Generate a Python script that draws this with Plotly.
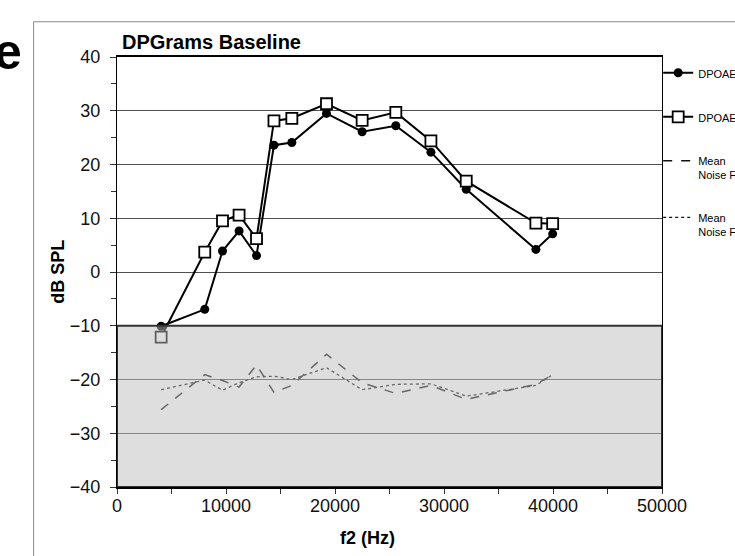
import plotly.graph_objects as go

# ---- data ----
f2_hz = [4050, 8050, 9680, 11200, 12800, 14400, 16040, 19220, 22490, 25580, 28800, 32040, 38430, 39970]
dpoae_1 = [-10.1, -6.95, 3.9, 7.65, 3.05, 23.6, 24.1, 29.5, 26.1, 27.2, 22.3, 15.4, 4.2, 7.1]
dpoae_2 = [-12.1, 3.7, 9.5, 10.6, 6.2, 28.1, 28.6, 31.3, 28.2, 29.7, 24.4, 16.9, 9.1, 9.0]
noise_1 = [-25.6, -19.1, -20.2, -21.4, -17.3, -22.4, -21.1, -15.3, -20.6, -22.6, -21.1, -23.7, -20.9, -19.1]
noise_2 = [-21.9, -20.1, -22.0, -20.6, -19.5, -19.4, -20.0, -17.8, -21.9, -20.9, -20.8, -23.1, -21.1, -19.1]

names = ["DPOAE L1", "DPOAE L2", "Mean<br>Noise Floor 1", "Mean<br>Noise Floor 2"]
y_ticks = [-40, -30, -20, -10, 0, 10, 20, 30, 40]
x_ticks = [0, 10000, 20000, 30000, 40000, 50000]
noise_band = [-40, -10]

FONT = "Liberation Sans, Arial, sans-serif"

fig = go.Figure()
fig.add_trace(go.Scatter(x=f2_hz, y=dpoae_1, name=names[0], mode="lines+markers",
                         line=dict(color="black", width=2),
                         marker=dict(symbol="circle", size=9, color="black"),
                         legendgroup="a"))
fig.add_trace(go.Scatter(x=f2_hz, y=dpoae_2, name=names[1], mode="lines+markers",
                         line=dict(color="black", width=2),
                         marker=dict(symbol="square", size=11, color="white",
                                     line=dict(color="black", width=1.8)),
                         legendgroup="b"))
fig.add_trace(go.Scatter(x=f2_hz, y=noise_1, name=names[2], mode="lines",
                         line=dict(color="#111111", width=1.5, dash="dash"),
                         legendgroup="c"))
fig.add_trace(go.Scatter(x=f2_hz, y=noise_2, name=names[3], mode="lines",
                         line=dict(color="#111111", width=1.3, dash="dot"),
                         legendgroup="d"))

# grey noise-floor band drawn over the traces (semi transparent)
fig.add_shape(type="rect", xref="x", yref="y", x0=x_ticks[0], x1=x_ticks[-1],
              y0=noise_band[0], y1=noise_band[1], layer="above",
              fillcolor="rgba(189,189,189,0.5)", line=dict(color="#333333", width=2))

# outer frame of the slide graphic
fig.add_shape(type="rect", xref="paper", yref="paper", x0=-0.153, x1=1.6, y0=-0.3, y1=1.082,
              line=dict(color="#8a8a8a", width=1), fillcolor="rgba(0,0,0,0)", layer="below")

fig.add_annotation(text="<b>DPGrams Baseline</b>", xref="paper", yref="paper",
                   x=0.006, y=1.004, xanchor="left", yanchor="bottom", showarrow=False,
                   font=dict(family=FONT, size=20, color="black"))
fig.add_annotation(text="<b>e</b>", xref="paper", yref="paper",
                   x=-0.2293, y=0.941, xanchor="left", yanchor="bottom", showarrow=False,
                   font=dict(family=FONT, size=50, color="black"))
fig.add_annotation(text="<b>f2 (Hz)</b>", xref="paper", yref="paper",
                   x=0.46, y=-0.118, xanchor="center", yanchor="middle", showarrow=False,
                   font=dict(family=FONT, size=18, color="black"))
fig.add_annotation(text="<b>dB SPL</b>", xref="paper", yref="paper", textangle=-90,
                   x=-0.1088, y=0.5, xanchor="center", yanchor="middle", showarrow=False,
                   font=dict(family=FONT, size=18, color="black"))

fig.update_layout(
    width=735, height=556,
    margin=dict(l=117, r=73, t=57, b=69, autoexpand=False),
    paper_bgcolor="white", plot_bgcolor="white",
    font=dict(family=FONT, color="black"),
    showlegend=True,
    legend=dict(x=0.993, y=0.995, xanchor="left", yanchor="top",
                font=dict(family=FONT, size=11, color="black"),
                tracegroupgap=25, itemwidth=30, valign="top",
                bgcolor="rgba(0,0,0,0)"),
    xaxis=dict(range=[x_ticks[0], x_ticks[-1]], tickvals=x_ticks,
               ticktext=[str(v) for v in x_ticks],
               showgrid=False, zeroline=False,
               showline=True, linecolor="black", linewidth=2, mirror=True,
               ticks="outside", ticklen=5, tickcolor="#333", tickwidth=1,
               minor=dict(dtick=5000, ticks="outside", ticklen=5, tickcolor="#333"),
               ticklabelstandoff=-4,
               tickfont=dict(family=FONT, size=18, color="#111")),
    yaxis=dict(range=[y_ticks[0], y_ticks[-1]], tickvals=y_ticks,
               showgrid=True, gridcolor="#505050", gridwidth=1, zeroline=False,
               showline=True, linecolor="black", linewidth=1.3, mirror=True,
               ticks="outside", ticklen=6, tickcolor="#333", tickwidth=1,
               minor=dict(dtick=5, ticks="outside", ticklen=5, tickcolor="#333"),
               ticklabelstandoff=6,
               tickfont=dict(family=FONT, size=18, color="#111")),
)

# remove the default 8px page margin so the figure fills the window exactly
fig.write_html("out.html",
               config={"displayModeBar": False},
               post_script="document.body.style.margin='0';document.body.style.overflow='hidden';")
